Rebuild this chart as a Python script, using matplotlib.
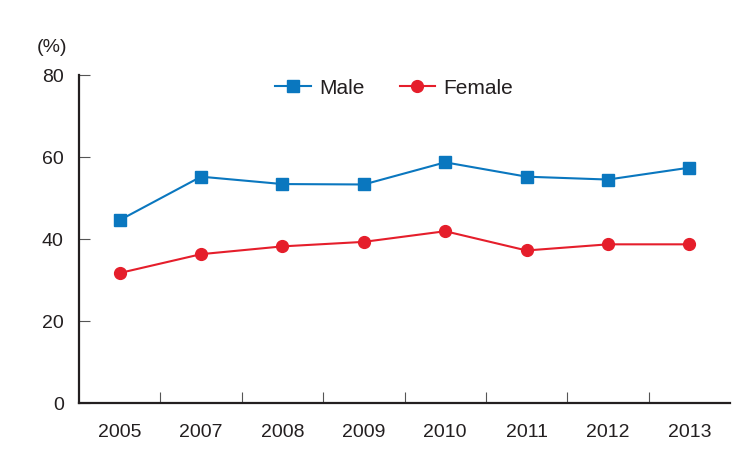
import matplotlib
matplotlib.use("Agg")
import matplotlib.pyplot as plt
from matplotlib.ticker import FixedLocator

years = ["2005", "2007", "2008", "2009", "2010", "2011", "2012", "2013"]
male = [44.6, 55.2, 53.4, 53.3, 58.7, 55.2, 54.5, 57.4]
female = [31.7, 36.3, 38.2, 39.3, 41.9, 37.2, 38.7, 38.7]
y_ticks = [0, 20, 40, 60, 80]

plt.rcParams['font.family'] = ['Liberation Sans', 'DejaVu Sans']
txt = '#231f20'
blue = '#0a77bf'
red = '#e51e2b'

fig = plt.figure(figsize=(7.34, 4.59), dpi=100)
ax = fig.add_axes([0.1076, 0.122, 0.887, 0.7146])
x = list(range(len(years)))
ax.plot(x, male, color=blue, marker='s', markersize=9, linewidth=1.5, label='Male')
ax.plot(x, female, color=red, marker='o', markersize=8.5, linewidth=1.5, label='Female')

ax.set_xlim(-0.5, len(years) - 0.5)
ax.set_ylim(0, 80)
ax.set_yticks(y_ticks)
ax.set_yticklabels([str(v) for v in y_ticks], fontsize=14, color=txt)
ax.set_xticks(x)
ax.set_xticklabels(years, fontsize=14, color=txt)
ax.tick_params(axis='x', which='major', length=0, pad=15)
ax.xaxis.set_minor_locator(FixedLocator([i + 0.5 for i in range(len(years) - 1)]))
ax.tick_params(axis='x', which='minor', direction='in', length=8, width=0.8, color='#555555')
ax.tick_params(axis='y', direction='in', length=8, width=0.8, color='#555555', pad=11)

for s in ['top', 'right']:
    ax.spines[s].set_visible(False)
for s in ['left', 'bottom']:
    ax.spines[s].set_linewidth(1.6)
    ax.spines[s].set_color(txt)

fig.text(0.071, 0.897, '(%)', fontsize=14, color=txt, ha='center', va='center')

leg = fig.legend(loc='center', bbox_to_anchor=(0.537, 0.808), ncol=2, frameon=False,
                 fontsize=15, handlelength=1.7, columnspacing=1.7, handletextpad=0.4)
for t in leg.get_texts():
    t.set_color(txt)

fig.savefig('out.png', dpi=100)
